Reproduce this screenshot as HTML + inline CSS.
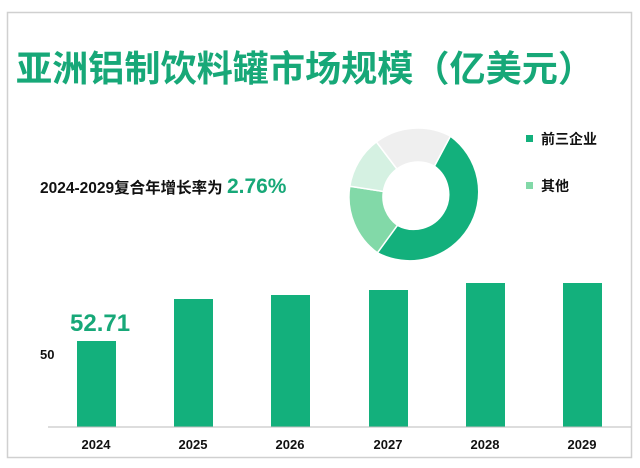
<!DOCTYPE html>
<html><head><meta charset="utf-8"><style>
body{margin:0;background:#fff;width:640px;height:468px;overflow:hidden;font-family:"Liberation Sans","Noto Sans CJK SC",sans-serif;}
</style></head><body>
<svg width="640" height="468" xmlns="http://www.w3.org/2000/svg" style="position:absolute;left:0;top:0">
<rect x="7.5" y="12.5" width="624" height="445" fill="#fff" stroke="#d0d0d0" stroke-width="1.5"/>
<text x="16" y="81" font-size="36" font-weight="bold" fill="#17a878" font-family="Liberation Sans,Noto Sans CJK SC,sans-serif" textLength="578" lengthAdjust="spacingAndGlyphs">亚洲铝制饮料罐市场规模（亿美元）</text>
<text x="40" y="193" font-size="15.5" font-weight="bold" fill="#111" font-family="Liberation Sans,Noto Sans CJK SC,sans-serif">2024-2029复合年增长率为 <tspan font-size="21" fill="#17a878">2.76%</tspan></text>
<g transform="translate(418,197)" stroke="#fff" stroke-width="1.5">
<path d="M32.4,-60.9 A69,69 0 0 1 -40.6,55.8 L-20.6,28.3 A35,35 0 0 0 16.4,-30.9 Z" fill="#13b07c"/>
<path d="M-40.6,55.8 A69,69 0 0 1 -68.2,-10.8 L-34.6,-5.5 A35,35 0 0 0 -20.6,28.3 Z" fill="#82d9a8"/>
<path d="M-68.2,-10.8 A69,69 0 0 1 -41.6,-55.1 L-21.1,-28 A35,35 0 0 0 -34.6,-5.5 Z" fill="#d5f1e2"/>
<path d="M-41.6,-55.1 A69,69 0 0 1 32.4,-60.9 L16.4,-30.9 A35,35 0 0 0 -21.1,-28 Z" fill="#efefef"/>
</g>
<rect x="526" y="135" width="7" height="7" fill="#13b07c"/>
<text x="541" y="144" font-size="14" font-weight="bold" fill="#111" font-family="Liberation Sans,Noto Sans CJK SC,sans-serif">前三企业</text>
<rect x="526" y="182" width="7" height="7" fill="#82d9a8"/>
<text x="541" y="191" font-size="14" font-weight="bold" fill="#111" font-family="Liberation Sans,Noto Sans CJK SC,sans-serif">其他</text>
<g fill="#13b07c">
<rect x="77" y="341" width="39" height="86"/>
<rect x="174" y="299" width="39" height="128"/>
<rect x="271" y="295" width="39" height="132"/>
<rect x="369" y="290" width="39" height="137"/>
<rect x="466" y="283" width="39" height="144"/>
<rect x="563" y="283" width="39" height="144"/>
</g>
<line x1="48" y1="427" x2="631" y2="427" stroke="#bbb" stroke-width="1"/>
<text x="70" y="331" font-size="24" font-weight="bold" fill="#17a878" font-family="Liberation Sans,sans-serif">52.71</text>
<text x="40" y="359" font-size="13" font-weight="bold" fill="#111" font-family="Liberation Sans,sans-serif">50</text>
<g font-size="13" font-weight="bold" fill="#111" text-anchor="middle" font-family="Liberation Sans,sans-serif">
<text x="96" y="449">2024</text><text x="193" y="449">2025</text><text x="290" y="449">2026</text>
<text x="388" y="449">2027</text><text x="485" y="449">2028</text><text x="582" y="449">2029</text>
</g>
</svg>
</body></html>
